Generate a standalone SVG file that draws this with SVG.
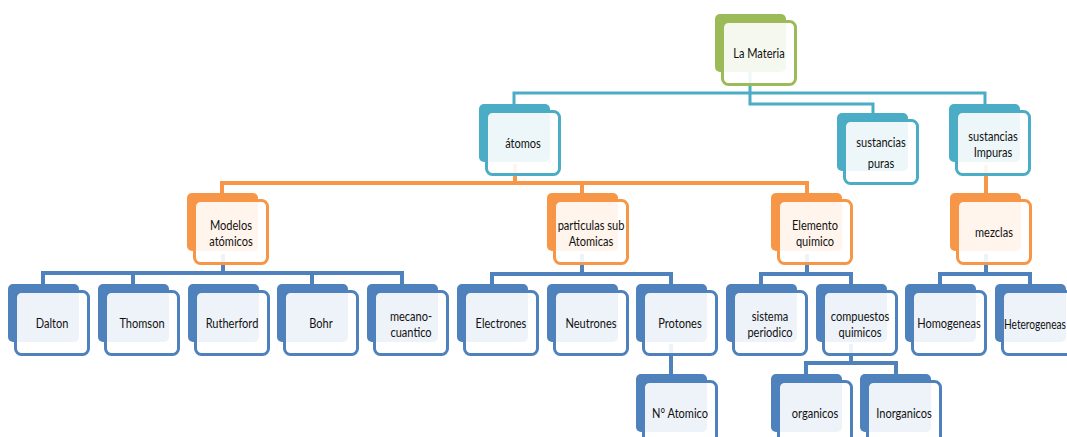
<svg xmlns="http://www.w3.org/2000/svg" width="1067" height="437" viewBox="0 0 1067 437">
<style>
.green{color:#9bbb59}.teal{color:#4bacc6}.orange{color:#f79646}.blue{color:#4f81bd}
text{font-family:Lato,"Open Sans",sans-serif;font-size:13px;text-anchor:middle;dominant-baseline:central;fill:#111}
.c{fill:none;stroke-linejoin:miter}
.ct{stroke:#4bacc6;stroke-width:3}
.co{stroke:#f79646;stroke-width:4}
.cb{stroke:#4f81bd;stroke-width:4}
</style>
<defs>
<rect id="bk" width="71" height="58" rx="5" fill="currentColor"/>
<rect id="fr" x="7.5" y="7.5" width="73" height="63" rx="6" fill="#fff" fill-opacity="0.9" stroke="currentColor" stroke-width="3"/>
</defs>
<g id="connectors">
<path class="c ct" d="M514,104V93H985V104"/>
<path class="c ct" d="M750,72V104H873V113"/>
<path class="c co" d="M515,164V183"/>
<path class="c co" d="M222,193V183H807V193M582,183V193"/>
<path class="c co" d="M986,165V193"/>
<path class="c cb" d="M223,254V273"/>
<path class="c cb" d="M43,284V273H402V284M133,273V284M312,273V284"/>
<path class="c cb" d="M582,254V274"/>
<path class="c cb" d="M492,284V274H671V284"/>
<path class="c cb" d="M807,254V274"/>
<path class="c cb" d="M761,284V274H851V284"/>
<path class="c cb" d="M986,254V274"/>
<path class="c cb" d="M940,284V274H1030V284"/>
<path class="c cb" d="M671,344V374"/>
<path class="c cb" d="M851,344V363"/>
<path class="c cb" d="M806,374V363H896V374"/>
</g>
<g id="n-materia" class="green" transform="translate(715,14)"><use href="#bk"/><use href="#fr"/><text transform="translate(44,39.5) scale(.85,1)">La Materia</text></g>
<g id="n-atomos" class="teal" transform="translate(479,104)"><use href="#bk"/><use href="#fr"/><text transform="translate(44,39.5) scale(.85,1)">átomos</text></g>
<g id="n-puras" class="teal" transform="translate(837,113)"><use href="#bk"/><use href="#fr"/><text transform="translate(44,39.5) scale(.85,1)"><tspan x="0" y="-10.5">sustancias</tspan><tspan x="0" y="10.5">puras</tspan></text></g>
<g id="n-impuras" class="teal" transform="translate(949,104)"><use href="#bk"/><use href="#fr"/><text transform="translate(44,39.5) scale(.85,1)"><tspan x="0" y="-8">sustancias</tspan><tspan x="0" y="8">Impuras</tspan></text></g>
<g id="n-modelos" class="orange" transform="translate(187,193)"><use href="#bk"/><use href="#fr"/><text transform="translate(44,39.5) scale(.85,1)"><tspan x="0" y="-8">Modelos</tspan><tspan x="0" y="8">atómicos</tspan></text></g>
<g id="n-particulas" class="orange" transform="translate(547,193)"><use href="#bk"/><use href="#fr"/><text transform="translate(44,39.5) scale(.85,1)"><tspan x="0" y="-8">particulas sub</tspan><tspan x="0" y="8">Atomicas</tspan></text></g>
<g id="n-elemento" class="orange" transform="translate(771,193)"><use href="#bk"/><use href="#fr"/><text transform="translate(44,39.5) scale(.85,1)"><tspan x="0" y="-8">Elemento</tspan><tspan x="0" y="8">quimico</tspan></text></g>
<g id="n-mezclas" class="orange" transform="translate(950,193)"><use href="#bk"/><use href="#fr"/><text transform="translate(44,39.5) scale(.85,1)">mezclas</text></g>
<g id="n-dalton" class="blue" transform="translate(8,284)"><use href="#bk"/><use href="#fr"/><text transform="translate(44,39.5) scale(.85,1)">Dalton</text></g>
<g id="n-thomson" class="blue" transform="translate(98,284)"><use href="#bk"/><use href="#fr"/><text transform="translate(44,39.5) scale(.85,1)">Thomson</text></g>
<g id="n-rutherford" class="blue" transform="translate(188,284)"><use href="#bk"/><use href="#fr"/><text transform="translate(44,39.5) scale(.85,1)">Rutherford</text></g>
<g id="n-bohr" class="blue" transform="translate(277,284)"><use href="#bk"/><use href="#fr"/><text transform="translate(44,39.5) scale(.85,1)">Bohr</text></g>
<g id="n-mecano" class="blue" transform="translate(367,284)"><use href="#bk"/><use href="#fr"/><text transform="translate(44,39.5) scale(.85,1)"><tspan x="0" y="-8">mecano-</tspan><tspan x="0" y="8">cuantico</tspan></text></g>
<g id="n-electrones" class="blue" transform="translate(457,284)"><use href="#bk"/><use href="#fr"/><text transform="translate(44,39.5) scale(.85,1)">Electrones</text></g>
<g id="n-neutrones" class="blue" transform="translate(547,284)"><use href="#bk"/><use href="#fr"/><text transform="translate(44,39.5) scale(.85,1)">Neutrones</text></g>
<g id="n-protones" class="blue" transform="translate(636,284)"><use href="#bk"/><use href="#fr"/><text transform="translate(44,39.5) scale(.85,1)">Protones</text></g>
<g id="n-sistema" class="blue" transform="translate(726,284)"><use href="#bk"/><use href="#fr"/><text transform="translate(44,39.5) scale(.85,1)"><tspan x="0" y="-8">sistema</tspan><tspan x="0" y="8">periodico</tspan></text></g>
<g id="n-compuestos" class="blue" transform="translate(816,284)"><use href="#bk"/><use href="#fr"/><text transform="translate(44,39.5) scale(.85,1)"><tspan x="0" y="-8">compuestos</tspan><tspan x="0" y="8">quimicos</tspan></text></g>
<g id="n-homogeneas" class="blue" transform="translate(905,284)"><use href="#bk"/><use href="#fr"/><text transform="translate(44,39.5) scale(.85,1)">Homogeneas</text></g>
<g id="n-heterogeneas" class="blue" transform="translate(995,284)"><use href="#bk"/><use href="#fr"/><text transform="translate(40,39.5) scale(.78,1)">Heterogeneas</text></g>
<g id="n-natomico" class="blue" transform="translate(636,374)"><use href="#bk"/><use href="#fr"/><text transform="translate(44,39.5) scale(.85,1)">N° Atomico</text></g>
<g id="n-organicos" class="blue" transform="translate(771,374)"><use href="#bk"/><use href="#fr"/><text transform="translate(44,39.5) scale(.85,1)">organicos</text></g>
<g id="n-inorganicos" class="blue" transform="translate(860,374)"><use href="#bk"/><use href="#fr"/><text transform="translate(44,39.5) scale(.85,1)">Inorganicos</text></g>
</svg>
